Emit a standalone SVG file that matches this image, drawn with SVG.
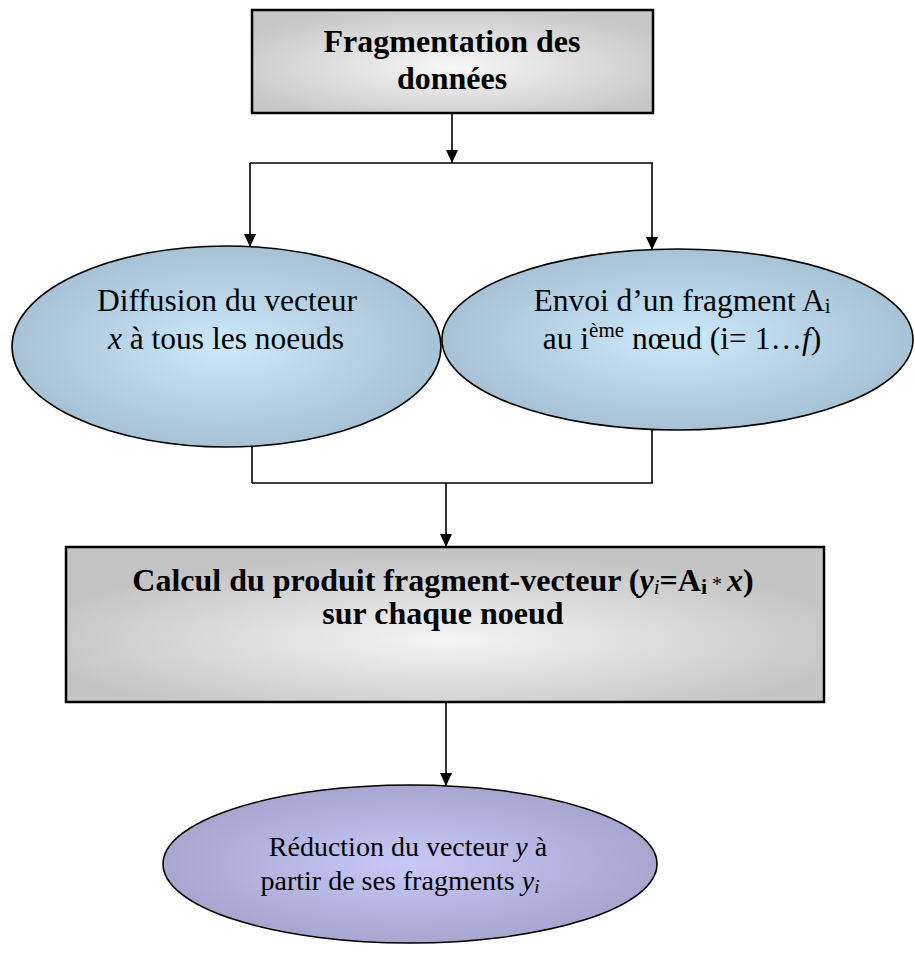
<svg xmlns="http://www.w3.org/2000/svg" width="915" height="956" viewBox="0 0 915 956">
<style>
  text { font-family: "Liberation Serif", "Times New Roman", serif; fill: #000; }
  .b { font-weight: bold; font-size: 32px; }
  .r { font-size: 31.5px; }
  .r2 { font-size: 28px; }
  .box { stroke: #000; stroke-width: 2.5; }
  .ell { stroke: #000; stroke-width: 1.6; }
  .conn line { stroke: #000; stroke-width: 1.6; }
</style>
<defs>
  <radialGradient id="grey" cx="0.5" cy="0.55" r="0.6">
    <stop offset="0" stop-color="#f7f7f7"/>
    <stop offset="1" stop-color="#c6c6c6"/>
  </radialGradient>
  <radialGradient id="grey2" cx="0.5" cy="0.6" r="0.55">
    <stop offset="0" stop-color="#f5f5f5"/>
    <stop offset="1" stop-color="#c4c4c4"/>
  </radialGradient>
  <radialGradient id="blue" cx="0.5" cy="0.5" r="0.5">
    <stop offset="0" stop-color="#cbe9fb"/>
    <stop offset="1" stop-color="#a7c2d4"/>
  </radialGradient>
  <radialGradient id="violet" cx="0.5" cy="0.5" r="0.5">
    <stop offset="0" stop-color="#c9c9f9"/>
    <stop offset="1" stop-color="#a6a6cf"/>
  </radialGradient>
  <marker id="arr" markerUnits="userSpaceOnUse" markerWidth="14" markerHeight="14" viewBox="0 0 14 14" refX="13" refY="7" orient="auto">
    <path d="M0,1 L13,7 L0,13 z" fill="#000"/>
  </marker>
</defs>

<g id="connectors" class="conn">
  <line x1="452" y1="113" x2="452" y2="163" marker-end="url(#arr)"/>
  <line x1="250" y1="163" x2="653" y2="163"/>
  <line x1="250" y1="163" x2="250" y2="247" marker-end="url(#arr)"/>
  <line x1="652" y1="163" x2="652" y2="250" marker-end="url(#arr)"/>
  <line x1="252" y1="446" x2="252" y2="483"/>
  <line x1="652" y1="429" x2="652" y2="483"/>
  <line x1="252" y1="483" x2="653" y2="483"/>
  <line x1="446" y1="483" x2="446" y2="547" marker-end="url(#arr)"/>
  <line x1="446" y1="702" x2="446" y2="786" marker-end="url(#arr)"/>
</g>

<g id="node-fragmentation">
  <rect class="box" x="252" y="10" width="401" height="103" fill="url(#grey)"/>
  <text class="b" text-anchor="middle"><tspan x="452" y="52">Fragmentation des</tspan><tspan x="452" y="89">données</tspan></text>
</g>

<g id="node-diffusion">
  <ellipse class="ell" cx="226.5" cy="346.5" rx="214.5" ry="100.5" fill="url(#blue)"/>
  <text class="r" text-anchor="middle"><tspan x="227" y="311">Diffusion du vecteur</tspan><tspan x="226" y="349"><tspan font-style="italic">x</tspan> à tous les noeuds</tspan></text>
</g>

<g id="node-envoi">
  <ellipse class="ell" cx="677.5" cy="339.5" rx="235.5" ry="90.5" fill="url(#blue)"/>
  <text class="r" text-anchor="middle"><tspan x="682" y="311">Envoi d’un fragment A<tspan font-size="21" dy="2">i</tspan></tspan></text>
  <text class="r" text-anchor="middle" x="682" y="349">au i<tspan font-size="21" dy="-12">ème</tspan><tspan dy="12"> nœud (i= 1…</tspan><tspan font-style="italic">f</tspan>)</text>
</g>

<g id="node-calcul">
  <rect class="box" x="66" y="547" width="758" height="155" fill="url(#grey2)"/>
  <text class="b" text-anchor="middle" x="443" y="591">Calcul du produit fragment-vecteur (<tspan font-style="italic">y</tspan><tspan font-style="italic" font-weight="normal" font-size="21" dy="3">i</tspan><tspan dy="-3">=A</tspan><tspan font-size="22" dy="3">i</tspan><tspan font-size="20" font-weight="normal" dy="-3"> * </tspan><tspan font-style="italic">x</tspan>)</text>
  <text class="b" text-anchor="middle" x="443" y="624">sur chaque noeud</text>
</g>

<g id="node-reduction">
  <ellipse class="ell" cx="410" cy="864" rx="247" ry="79" fill="url(#violet)"/>
  <text class="r2" text-anchor="middle" x="408" y="856">Réduction du vecteur <tspan font-style="italic">y</tspan> à</text>
  <text class="r2" text-anchor="middle" x="400" y="890">partir de ses fragments <tspan font-style="italic">y</tspan><tspan font-style="italic" font-size="19" dy="3">i</tspan></text>
</g>
</svg>
